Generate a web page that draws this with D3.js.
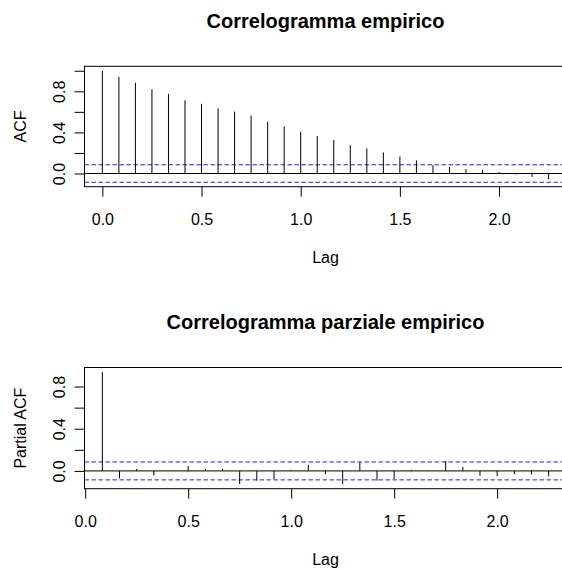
<!DOCTYPE html>
<html>
<head>
<meta charset="utf-8">
<script src="https://cdn.jsdelivr.net/npm/d3@7"></script>
<style>
  html, body { margin: 0; padding: 0; background: #fff; }
  svg { display: block; }
  text { font-family: "Liberation Sans", Arial, sans-serif; fill: #000; }
</style>
</head>
<body>
<svg id="chart" width="562" height="571"></svg>
<script>
// Monthly series: lags are in months, plotted in years (frequency 12)
const frequency = 12;

// Sample autocorrelation, lags 0..27
const acfLags = [0, 1, 2, 3, 4, 5, 6, 7, 8, 9, 10, 11, 12, 13, 14, 15, 16, 17, 18, 19, 20, 21, 22, 23, 24, 25, 26, 27];
const acfValues = [1.000, 0.941, 0.883, 0.821, 0.775, 0.713, 0.678, 0.635, 0.603, 0.564, 0.505, 0.456, 0.407, 0.365,
                   0.326, 0.277, 0.244, 0.205, 0.166, 0.127, 0.081, 0.065, 0.042, 0.036, 0.013, -0.010, -0.033, -0.055];

// Sample partial autocorrelation, lags 1..27
const pacfLags = [1, 2, 3, 4, 5, 6, 7, 8, 9, 10, 11, 12, 13, 14, 15, 16, 17, 18, 19, 20, 21, 22, 23, 24, 25, 26, 27];
const pacfValues = [0.938, -0.070, 0.019, -0.044, 0.003, 0.047, 0.019, 0.019, -0.126, -0.092, -0.079, 0.010, 0.057,
                    -0.032, -0.126, 0.082, -0.092, -0.076, 0.010, 0.003, 0.095, 0.038, -0.047, -0.050, -0.032, -0.032, -0.050];

// 95% white-noise bound
const ciBound = 0.085;

const xTicks = [0, 0.5, 1.0, 1.5, 2.0];
const acfYTicks = [0, 0.2, 0.4, 0.6, 0.8, 1.0];
const pacfYTicks = [0, 0.2, 0.4, 0.6, 0.8];
const yLabelled = [0, 0.4, 0.8];

const svg = d3.select("#chart");
const plotLeft = 84.5, plotRight = 566.5;

// R-style 4% padding around the data range
function padded(lo, hi) {
  const d = (hi - lo) * 0.04;
  return [lo - d, hi + d];
}

function panel(opts) {
  const { top, bottom, lags, values, title, ylab, yTicks, titleY } = opts;
  const lagYears = lags.map(l => l / frequency);

  const x = d3.scaleLinear()
    .domain(padded(d3.min(lagYears), d3.max(lagYears)))
    .range([plotLeft, plotRight]);
  const y = d3.scaleLinear()
    .domain(padded(Math.min(d3.min(values), -ciBound), Math.max(d3.max(values), ciBound)))
    .range([bottom, top]);

  const g = svg.append("g");

  // plot box
  g.append("rect")
    .attr("x", plotLeft).attr("y", top)
    .attr("width", plotRight - plotLeft).attr("height", bottom - top)
    .attr("fill", "none").attr("stroke", "#000").attr("stroke-width", 1);

  // zero line
  g.append("line")
    .attr("x1", plotLeft).attr("x2", plotRight)
    .attr("y1", y(0)).attr("y2", y(0))
    .attr("stroke", "#000").attr("stroke-width", 1);

  // confidence bounds
  g.selectAll("line.ci").data([ciBound, -ciBound]).join("line")
    .attr("class", "ci")
    .attr("x1", plotLeft).attr("x2", plotRight)
    .attr("y1", d => y(d)).attr("y2", d => y(d))
    .attr("stroke", "#1f1fff").attr("stroke-width", 1)
    .attr("stroke-dasharray", "4.5,2.5");

  // spikes
  g.selectAll("line.spike").data(values).join("line")
    .attr("class", "spike")
    .attr("x1", (d, i) => x(lagYears[i])).attr("x2", (d, i) => x(lagYears[i]))
    .attr("y1", y(0)).attr("y2", d => y(d))
    .attr("stroke", "#000").attr("stroke-width", 1);

  // x axis
  const xa = g.append("g")
    .attr("transform", `translate(0,${bottom})`)
    .call(d3.axisBottom(x).tickValues(xTicks).tickSize(10).tickPadding(17)
      .tickFormat(d3.format(".1f")));
  xa.select(".domain").remove();
  xa.selectAll("line").attr("stroke", "#000");
  xa.selectAll("text").attr("font-size", 16).attr("font-family", null);

  // y axis, rotated labels
  const ya = g.append("g")
    .attr("transform", `translate(${plotLeft},0)`)
    .call(d3.axisLeft(y).tickValues(yTicks).tickSize(10)
      .tickFormat(d => yLabelled.some(v => Math.abs(v - d) < 1e-9) ? d3.format(".1f")(d) : ""));
  ya.select(".domain").remove();
  ya.selectAll("line").attr("stroke", "#000");
  ya.selectAll("text")
    .attr("font-size", 16).attr("font-family", null)
    .attr("transform", "rotate(-90)")
    .attr("x", 0).attr("y", -19.5).attr("dy", null)
    .attr("text-anchor", "middle");

  // titles
  svg.append("text")
    .attr("x", (plotLeft + plotRight) / 2).attr("y", titleY)
    .attr("text-anchor", "middle")
    .attr("font-size", 20).attr("font-weight", "bold")
    .text(title);

  svg.append("text")
    .attr("x", (plotLeft + plotRight) / 2).attr("y", bottom + 76)
    .attr("text-anchor", "middle").attr("font-size", 16)
    .text("Lag");

  svg.append("text")
    .attr("transform", `translate(26,${(top + bottom) / 2}) rotate(-90)`)
    .attr("text-anchor", "middle").attr("font-size", 16)
    .text(ylab);
}

panel({
  top: 66.3, bottom: 186.7, titleY: 28,
  lags: acfLags, values: acfValues,
  title: "Correlogramma empirico", ylab: "ACF", yTicks: acfYTicks
});

panel({
  top: 367.5, bottom: 488.7, titleY: 329,
  lags: pacfLags, values: pacfValues,
  title: "Correlogramma parziale empirico", ylab: "Partial ACF", yTicks: pacfYTicks
});
</script>
</body>
</html>
